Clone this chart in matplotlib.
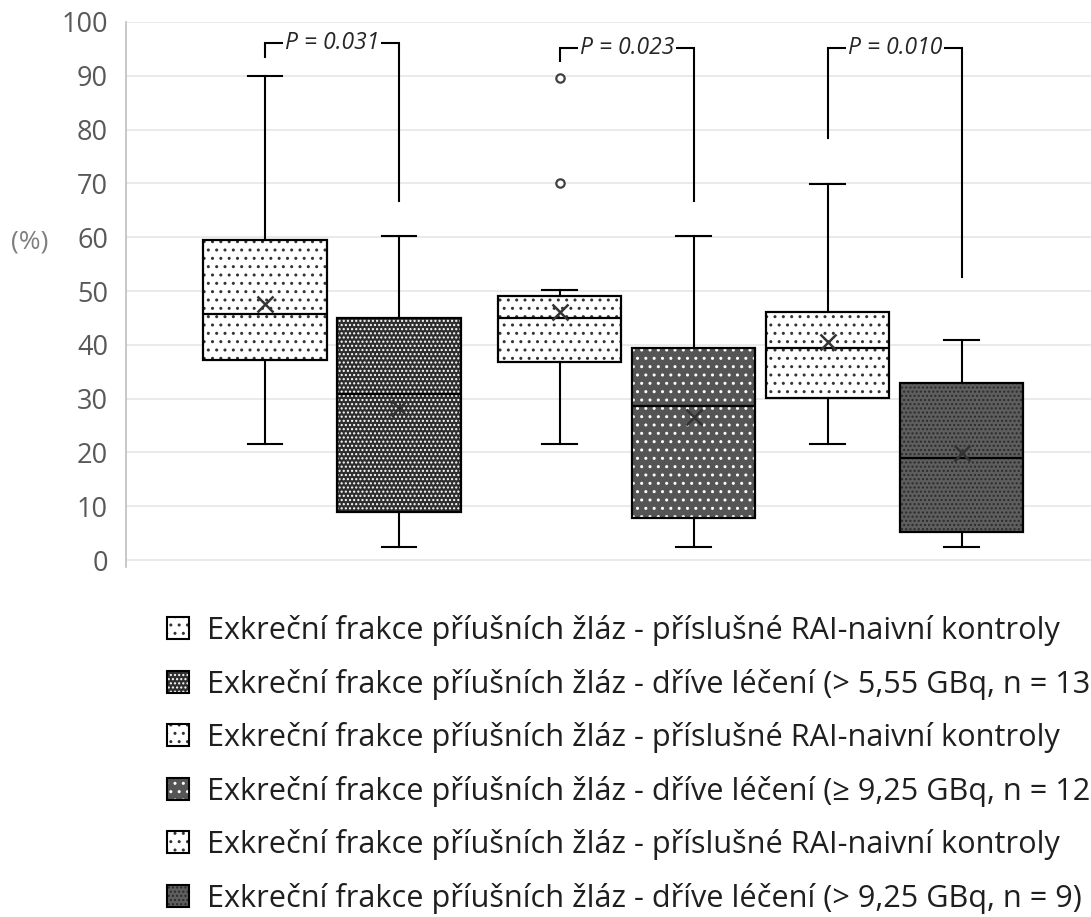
import matplotlib
matplotlib.use("Agg")
import matplotlib.pyplot as plt
from matplotlib import font_manager
from matplotlib.patches import PathPatch, Rectangle

# box summary values (%)
whis_lo = [21.6, 2.4, 21.6, 2.4, 21.6, 2.4]
q1 = [37.2, 8.9, 36.8, 7.8, 30.1, 5.2]
medians = [45.7, 30.9, 45.0, 28.6, 39.4, 19.0]
q3 = [59.5, 45.0, 49.0, 39.4, 46.1, 32.9]
whis_hi = [90.0, 60.2, 50.2, 60.2, 69.9, 40.9]
means = [47.6, 28.3, 46.1, 26.6, 40.5, 19.9]
outliers = [[], [], [70.0, 89.6], [], [], []]

labels = [
    "Exkreční frakce příušních žláz - příslušné RAI-naivní kontroly",
    "Exkreční frakce příušních žláz - dříve léčení (> 5,55 GBq, n = 13)",
    "Exkreční frakce příušních žláz - příslušné RAI-naivní kontroly",
    "Exkreční frakce příušních žláz - dříve léčení (≥ 9,25 GBq, n = 12)",
    "Exkreční frakce příušních žláz - příslušné RAI-naivní kontroly",
    "Exkreční frakce příušních žláz - dříve léčení (> 9,25 GBq, n = 9)",
]

# significance brackets
p_labels = ["P = 0.031", "P = 0.023", "P = 0.010"]
p_pairs = [(0, 1), (2, 3), (4, 5)]
p_top = [96.1, 95.2, 95.2]
p_left_end = [93.5, 92.7, 78.4]
p_right_end = [66.7, 66.7, 52.6]

yticks = list(range(0, 101, 10))

# layout / style
positions = [1, 2, 3.2, 4.2, 5.2, 6.2]
styles = [
    dict(face="white", hatch="..", hcol="#333333"),
    dict(face="#2e2e2e", hatch="....", hcol="white"),
    dict(face="white", hatch="..", hcol="#333333"),
    dict(face="#555555", hatch="..", hcol="white"),
    dict(face="white", hatch="..", hcol="#333333"),
    dict(face="#5e5e5e", hatch="....", hcol="#2a2a2a"),
]

available = {f.name for f in font_manager.fontManager.ttflist}
main_font = ["Open Sans", "DejaVu Sans"]
narrow = next((n for n in ["Liberation Sans Narrow", "DejaVu Sans Condensed"]
               if n in available), "Open Sans")

plt.rcParams["font.family"] = main_font
plt.rcParams["hatch.linewidth"] = 1.0

W, H = 1091, 917
fig = plt.figure(figsize=(W / 100, H / 100), dpi=100)
ax = fig.add_axes([126 / W, 1 - 567 / H, (W - 126) / W, (567 - 22) / H])

stats = []
for i in range(len(medians)):
    stats.append(dict(med=medians[i], q1=q1[i], q3=q3[i], whislo=whis_lo[i],
                      whishi=whis_hi[i], mean=means[i], fliers=outliers[i]))

bp = ax.bxp(stats, positions=positions, widths=0.92, capwidths=0.26,
            patch_artist=True, showmeans=True,
            whiskerprops=dict(color="black", lw=1.5),
            capprops=dict(color="black", lw=1.5),
            medianprops=dict(color="black", lw=1.6, zorder=4),
            meanprops=dict(marker="x", markersize=11, markeredgewidth=1.8,
                           markeredgecolor="#333333", zorder=5),
            flierprops=dict(marker="o", markersize=6, markerfacecolor="white",
                            markeredgecolor="#404040", markeredgewidth=1.6))

for box, st in zip(bp["boxes"], styles):
    box.set_facecolor(st["face"])
    box.set_edgecolor(st["hcol"])
    box.set_hatch(st["hatch"])
    box.set_linewidth(0)
    ax.add_patch(PathPatch(box.get_path(), fill=False, edgecolor="black",
                           lw=1.6, zorder=3))

# brackets with p-values
for (a, b), lab, top, yl, yr in zip(p_pairs, p_labels, p_top, p_left_end, p_right_end):
    xl, xr = positions[a], positions[b]
    ax.plot([xl, xl, xr, xr], [yl, top, top, yr], color="black", lw=1.5,
            solid_joinstyle="miter", zorder=3)
    ax.text((xl + xr) / 2, top, lab, ha="center", va="center", fontsize=16.5,
            style="italic", family=[narrow, "DejaVu Sans"], color="#262626",
            zorder=6, bbox=dict(facecolor="white", edgecolor="none", pad=1.5))

ax.set_xlim(-0.037, 7.164)
ax.set_ylim(-1.3, 100)
ax.set_yticks(yticks)
ax.set_xticks([])
ax.grid(axis="y", color="#e6e6e6", lw=1.2)
ax.set_axisbelow(True)
for s in ["top", "right", "bottom"]:
    ax.spines[s].set_visible(False)
ax.spines["left"].set_color("#bfbfbf")
ax.spines["left"].set_linewidth(1.2)
ax.tick_params(axis="y", length=0, pad=13, labelsize=19.5, labelcolor="#595959")

fig.text(30 / W, 1 - 242 / H, "(%)", ha="center", va="center",
         fontsize=19, color="#7f7f7f")

# legend drawn as a plain list below the plot
for i, (lab, st) in enumerate(zip(labels, styles)):
    base = 639 + 53.6 * i
    rect = dict(xy=(167 / W, 1 - base / H), width=22 / W, height=22 / H,
                transform=fig.transFigure)
    fig.add_artist(Rectangle(facecolor=st["face"], edgecolor=st["hcol"],
                             hatch=st["hatch"], lw=0, **rect))
    fig.add_artist(Rectangle(fill=False, edgecolor="black", lw=1.5, **rect))
    fig.text(207 / W, 1 - base / H, lab, ha="left", va="baseline",
             fontsize=22.1, color="#1f1f1f")

fig.savefig("out.png", dpi=100, facecolor="white")
